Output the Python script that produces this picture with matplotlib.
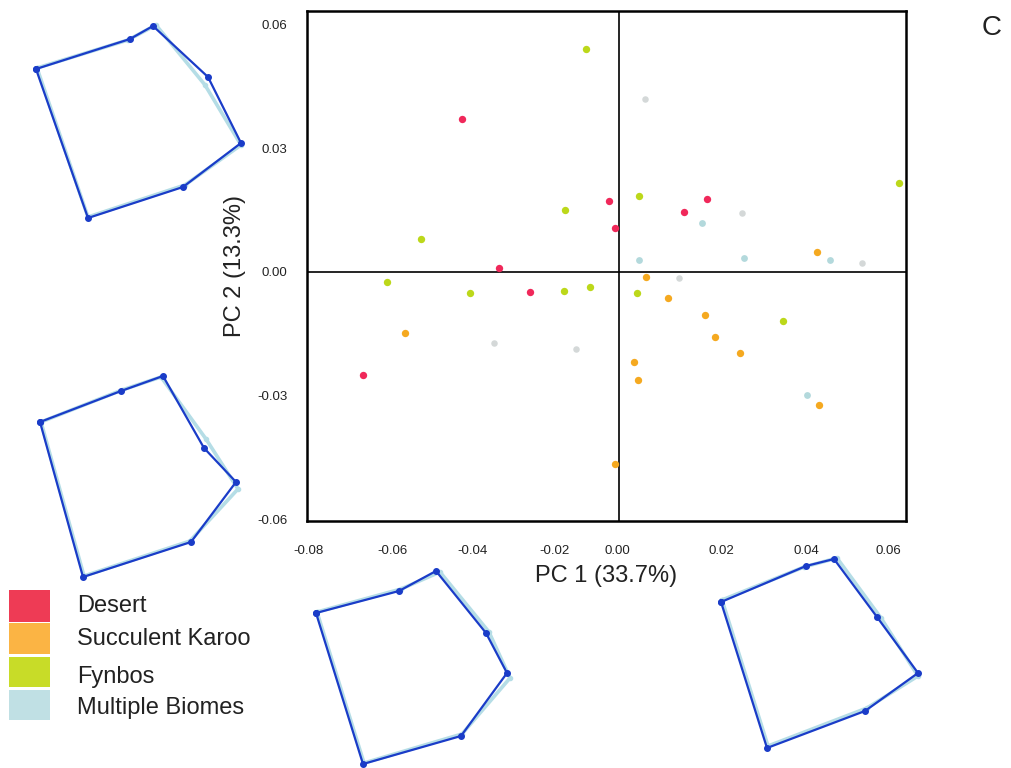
import matplotlib
matplotlib.use("Agg")
import matplotlib.pyplot as plt
from matplotlib.patches import Rectangle

plt.rcParams['font.family'] = ['Liberation Sans', 'DejaVu Sans']

# PCA scores (PC1, PC2) per biome
desert_x = [-0.0405, -0.0027, -0.0010, -0.0309, 0.0166, 0.0227, -0.0229, -0.0659]
desert_y = [0.0370, 0.0171, 0.0107, 0.0009, 0.0146, 0.0178, -0.0049, -0.0250]

karoo_x = [-0.0550, -0.0011, 0.0069, 0.0125, 0.0221, 0.0246, 0.0311, 0.0039, 0.0048, 0.0515, 0.0508]
karoo_y = [-0.0147, -0.0465, -0.0011, -0.0062, -0.0105, -0.0158, -0.0196, -0.0219, -0.0263, -0.0323, 0.0048]

fynbos_x = [-0.0086, -0.0140, -0.0511, 0.0050, 0.0719, -0.0596, -0.0383, -0.0141, -0.0075, 0.0045, 0.0421]
fynbos_y = [0.0541, 0.0150, 0.0080, 0.0185, 0.0216, -0.0025, -0.0052, -0.0045, -0.0036, -0.0052, -0.0120]

multi_x = [0.0214, 0.0052, 0.0320, 0.0543, 0.0484]
multi_y = [0.0118, 0.0029, 0.0033, 0.0029, -0.0299]
multi_pale_x = [0.0067, 0.0316, 0.0624, -0.0323, -0.0111, 0.0154]
multi_pale_y = [0.0419, 0.0144, 0.0021, -0.0173, -0.0187, -0.0015]

xtick_pos = [-0.08, -0.0584, -0.0376, -0.0165, -0.0005, 0.0262, 0.0481, 0.0692]
xtick_lab = ['-0.08', '-0.06', '-0.04', '-0.02', '0.00', '0.02', '0.04', '0.06']
ytick_pos = [-0.06, -0.03, 0.0, 0.03, 0.06]
ytick_lab = ['-0.06', '-0.03', '0.00', '0.03', '0.06']

labels = ['Desert', 'Succulent Karoo', 'Fynbos', 'Multiple Biomes']
legend_colors = ['#ee3b55', '#fbb444', '#c8dc28', '#c0e0e4']

# landmark outlines (local coords) for the extreme shapes, mean and target
shape1 = [(26, 64), (120, 34), (143, 21), (198, 72), (231, 138), (173, 182), (78, 213)]
shape1_b = [(27, 63), (118, 35), (146, 20), (195, 80), (231, 140), (175, 180), (78, 212)]
shape2 = [(30, 62), (111, 31), (153, 16), (194, 88), (226, 122), (181, 182), (73, 217)]
shape2_b = [(31, 62), (112, 30), (151, 17), (196, 79), (228, 129), (180, 181), (74, 216)]
shape3 = [(26, 63), (109, 41), (146, 21), (196, 83), (217, 123), (171, 186), (73, 214)]
shape3_b = [(27, 62), (111, 39), (150, 22), (199, 82), (220, 128), (172, 184), (74, 213)]
shape4 = [(21, 62), (106, 26), (134, 19), (177, 77), (218, 133), (165, 171), (67, 208)]
shape4_b = [(22, 60), (104, 27), (137, 18), (181, 78), (218, 136), (167, 168), (68, 206)]

W, H = 1011, 768
fig = plt.figure(figsize=(W / 100, H / 100), dpi=100)


def px_axes(x0, y0, w, h):
    return fig.add_axes([x0 / W, 1 - (y0 + h) / H, w / W, h / H])


ax = px_axes(307, 11, 599, 510)
ax.axhline(0, color='black', lw=1.2, zorder=1)
ax.axvline(0, color='black', lw=1.2, zorder=1)
ax.scatter(multi_pale_x, multi_pale_y, s=22, color='#d4d8d8', lw=0, zorder=2)
ax.scatter(multi_x, multi_y, s=24, color='#b3d9dc', lw=0, zorder=2)
ax.scatter(desert_x, desert_y, s=28, color='#f0285a', lw=0, zorder=3)
ax.scatter(karoo_x, karoo_y, s=28, color='#f5a920', lw=0, zorder=3)
ax.scatter(fynbos_x, fynbos_y, s=28, color='#bcd81a', lw=0, zorder=3)
ax.set_xlim(-0.0803, 0.0738)
ax.set_ylim(-0.0604, 0.0633)
ax.set_xticks(xtick_pos)
ax.set_xticklabels(xtick_lab)
ax.set_yticks(ytick_pos)
ax.set_yticklabels(ytick_lab)
ax.tick_params(axis='both', length=0, labelsize=9.5, colors='#222222')
ax.tick_params(axis='x', pad=17)
ax.tick_params(axis='y', pad=14)
for sp in ax.spines.values():
    sp.set_linewidth(1.8)
ax.set_xlabel('PC 1 (33.7%)', fontsize=17, color='#222222', labelpad=6)
ax.set_ylabel('PC 2 (13.3%)', fontsize=17, color='#222222', labelpad=8)

fig.text(992 / W, 1 - 28 / H, 'C', fontsize=20, ha='center', va='center', color='#222222')

# outline insets
for shp, shp_b, (ox, oy) in [(shape1, shape1_b, (10, 5)), (shape2, shape2_b, (10, 360)),
                             (shape3, shape3_b, (290, 550)), (shape4, shape4_b, (700, 540))]:
    sa = px_axes(ox, oy, 250, 218)
    bx = [p[0] for p in shp_b] + [shp_b[0][0]]
    by = [p[1] for p in shp_b] + [shp_b[0][1]]
    sa.plot(bx, by, color='#b5dde6', lw=2.6, marker='o', ms=3, clip_on=False)
    mx = [p[0] for p in shp] + [shp[0][0]]
    my = [p[1] for p in shp] + [shp[0][1]]
    sa.plot(mx, my, color='#1a3cc8', lw=1.6, marker='o', ms=4, clip_on=False)
    sa.set_xlim(0, 250)
    sa.set_ylim(218, 0)
    sa.axis('off')

# legend block
lg = px_axes(0, 585, 300, 140)
lg.set_xlim(0, 300)
lg.set_ylim(140, 0)
lg.axis('off')
rows = [(5, 37, 21), (38, 69, 54), (72, 102, 92), (105, 135, 123)]
for (t, b, ty), lab, c in zip(rows, labels, legend_colors):
    lg.add_patch(Rectangle((9, t), 41, b - t, color=c, lw=0))
    lg.text(77, ty, lab, fontsize=17, va='center', ha='left', color='#222222')

plt.savefig('out.png', dpi=100, facecolor='w')
plt.close()
